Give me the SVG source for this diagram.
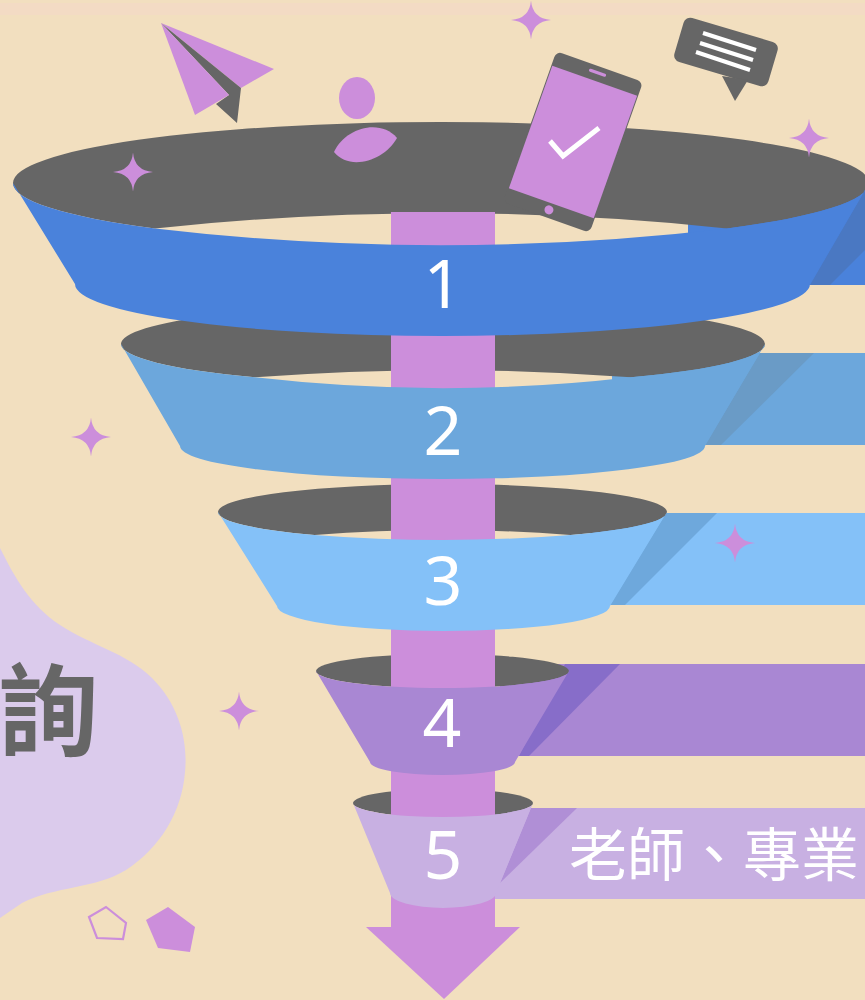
<svg xmlns="http://www.w3.org/2000/svg" xmlns:xlink="http://www.w3.org/1999/xlink" width="865" height="1000" viewBox="0 0 865 1000">
  <style>
    .rim { fill: #666666; }
    .pink { fill: #CC8EDB; }
    .t1 { fill: #4A82DB; } .t1s { fill: #4A78C2; }
    .t2 { fill: #6CA7DC; } .t2s { fill: #6A9BC6; }
    .t3 { fill: #84C1F8; } .t3s { fill: #6EA8DC; }
    .t4 { fill: #A987D3; } .t4s { fill: #876DC9; }
    .t5 { fill: #C8B0E2; } .t5s { fill: #B08FD6; }
    .num { font-family: "Noto Sans", "Open Sans", sans-serif; font-size: 68px; fill: #FFFFFF; text-anchor: middle; }
    .cjk { font-family: "Noto Sans CJK TC", "Noto Sans CJK SC", sans-serif; }
  </style>
  <defs>
    <path id="sparkle" d="M0,-19.5 Q1.5,-1.5 20,0 Q1.5,1.5 0,19.5 Q-1.5,1.5 -20,0 Q-1.5,-1.5 0,-19.5Z"/>
  </defs>

  <!-- background -->
  <rect width="865" height="1000" fill="#F2DFBF"/>
  <rect x="0" y="3" width="865" height="12" fill="#F3D9C6" opacity="0.8"/>

  <!-- lavender blob with heading fragment -->
  <g id="heading">
    <path d="M0,548 C15,578 30,605 60,625 C92,646 125,652 152,678 C180,706 188,742 185,772 C182,812 160,848 126,870 C95,889 55,886 22,903 L0,918 Z" fill="#DBCBEC"/>
    <text class="cjk" x="98" y="748" font-size="100" font-weight="700" fill="#666666" text-anchor="end">詢</text>
  </g>

  <!-- side bars with their fold shadows -->
  <g id="bars">
    <g id="bar1"><rect class="t1" x="688" y="185" width="177" height="100"/><polygon class="t1s" points="868,185 930,185 830,285 810,285"/></g>
    <g id="bar2"><rect class="t2" x="612" y="353" width="253" height="92"/><polygon class="t2s" points="760,353 814,353 721,445 705,445"/></g>
    <g id="bar3"><rect class="t3" x="590" y="513" width="275" height="92"/><polygon class="t3s" points="666,513 717,513 625,605 610,605"/></g>
    <g id="bar4"><rect class="t4" x="500" y="664" width="365" height="92"/><polygon class="t4s" points="565,664 620,664 529,756 519,756"/></g>
    <g id="bar5"><rect class="t5" x="480" y="808" width="385" height="91"/><polygon class="t5s" points="531,808 577,808 500,883"/></g>
  </g>

  <!-- funnel rims -->
  <g id="rims">
    <path id="rim1" class="rim" d="M13,183 A428,61 0 0 1 869,183 A428,61 0 0 1 727,228.4 Q441,198 155,228.4 A428,61 0 0 1 13,183 Z"/>
    <path id="rim2" class="rim" d="M121,344 A322,41 0 0 1 765,344 A322,41 0 0 1 631,377.3 Q443,363 255,377.3 A322,41 0 0 1 121,344 Z"/>
    <path id="rim3" class="rim" d="M218,512 A224.5,28 0 0 1 667,512 A224.5,28 0 0 1 570.5,535 Q442.5,525 314.5,535 A224.5,28 0 0 1 218,512 Z"/>
    <ellipse id="rim4" class="rim" cx="442.5" cy="671" rx="126.5" ry="17"/>
    <ellipse id="rim5" class="rim" cx="443" cy="803" rx="90" ry="14"/>
  </g>

  <!-- flow arrow running down through the funnel -->
  <g id="connectors">
    <rect class="pink" x="391" y="212" width="104" height="716"/>
    <polygon class="pink" points="366,927 520,927 444,999"/>
  </g>

  <!-- funnel bands -->
  <g id="bands">
    <g id="tier1">
      <path class="t1" d="M13,183 L75,284 A367.5,52 0 0 0 810,284 L869,183 A428,61 0 0 1 727,228.4 Q441,262 155,228.4 A428,61 0 0 1 13,183 Z"/>
      <text class="num" x="443" y="308">1</text>
    </g>
    <g id="tier2">
      <path class="t2" d="M121,344 L180,446 A262.5,33 0 0 0 705,446 L765,344 A322,41 0 0 1 631,377.3 Q443,399 255,377.3 A322,41 0 0 1 121,344 Z"/>
      <text class="num" x="443" y="455">2</text>
    </g>
    <g id="tier3">
      <path class="t3" d="M218,512 L277,606 A166.5,25 0 0 0 610,606 L667,512 A224.5,28 0 0 1 570.5,535 Q442.5,545 314.5,535 A224.5,28 0 0 1 218,512 Z"/>
      <text class="num" x="443" y="605">3</text>
    </g>
    <g id="tier4">
      <path class="t4" d="M316,671 L370,762 A72.5,13 0 0 0 515,762 L569,671 A126.5,17 0 0 1 316,671 Z"/>
      <text class="num" x="442" y="747">4</text>
    </g>
    <g id="tier5">
      <path class="t5" d="M353,803 L390,893 A53,15 0 0 0 496,893 L533,803 A90,14 0 0 1 353,803 Z"/>
      <text class="num" x="443" y="879">5</text>
      <text class="cjk" x="569" y="876" font-size="58" fill="#FFFFFF">老師、專業</text>
    </g>
  </g>

  <!-- decorative icons -->
  <g id="plane">
    <polygon class="pink" points="161,23 274,69 241,88"/>
    <polygon fill="#666666" points="161,23 241,88 237,123 216,104 229,95"/>
    <polygon class="pink" points="161,23 229,95 195,115"/>
  </g>
  <g id="person" class="pink">
    <ellipse cx="357" cy="98" rx="18" ry="21"/>
    <path d="M334,152 C345,128 380,118 397,138 C385,160 350,172 334,152 Z"/>
  </g>
  <g id="phone" transform="translate(573,142) rotate(19.5)">
    <rect x="-46" y="-80" width="92" height="160" rx="6" fill="#666666"/>
    <rect x="-45" y="-65" width="90" height="130" class="pink"/>
    <rect x="-9" y="-75" width="18" height="3" rx="1.5" class="pink"/>
    <circle cx="0" cy="72" r="4.5" class="pink"/>
  </g>
  <polyline points="550,141 563,156 599,128" fill="none" stroke="#FFFFFF" stroke-width="5"/>
  <g id="bubble">
    <rect x="-49" y="-23" width="98" height="46" rx="7" fill="#666666" transform="translate(726,52) rotate(16.5)"/>
    <polygon points="722,76 735,101 748,80" fill="#666666"/>
    <g stroke="#FFFFFF" stroke-width="4">
      <line x1="703" y1="33" x2="756" y2="50"/>
      <line x1="700" y1="43" x2="753" y2="60"/>
      <line x1="696" y1="52" x2="750" y2="70"/>
    </g>
  </g>

  <!-- sparkles and pentagons -->
  <g id="sparkles" class="pink">
    <use xlink:href="#sparkle" href="#sparkle" x="133" y="172"/>
    <use xlink:href="#sparkle" href="#sparkle" x="531" y="20"/>
    <use xlink:href="#sparkle" href="#sparkle" x="809" y="138"/>
    <use xlink:href="#sparkle" href="#sparkle" x="91" y="437"/>
    <use xlink:href="#sparkle" href="#sparkle" x="239" y="711"/>
    <use xlink:href="#sparkle" href="#sparkle" x="735" y="543"/>
  </g>
  <g id="pentagons">
    <polygon points="106,907 126,923 123,939 97,938 89,917" fill="none" stroke="#CC8EDB" stroke-width="2.2"/>
    <polygon class="pink" points="168,907 195,927 190,952 158,948 146,920"/>
  </g>
</svg>
